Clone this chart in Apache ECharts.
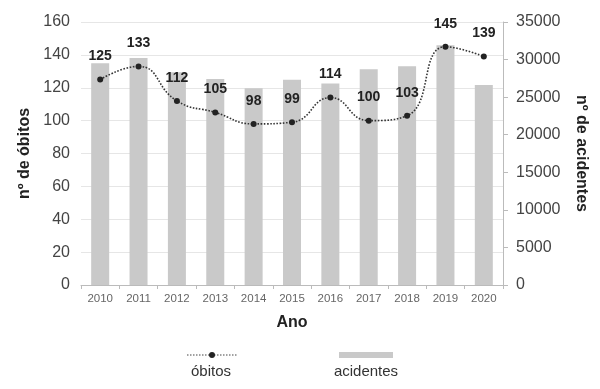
<!DOCTYPE html>
<html><head><meta charset="utf-8">
<script src="https://cdn.jsdelivr.net/npm/echarts@6/dist/echarts.min.js"></script>
<style>html,body{margin:0;padding:0;background:#fff}#c{width:600px;height:389px}</style>
</head><body><div id="c"></div>
<script>
var years = ['2010','2011','2012','2013','2014','2015','2016','2017','2018','2019','2020'];
var obitos = [125,133,112,105,98,99,114,100,103,145,139];
var acidentes = [29500,30200,28300,27400,26200,27300,26800,28700,29100,31900,26600];

var chart = echarts.init(document.getElementById('c'));
var font = 'Liberation Sans, Arial, sans-serif';
chart.setOption({
  animation: false,
  grid: {left: 81, right: 97, top: 22, bottom: 104},
  xAxis: {
    type: 'category', data: years,
    name: 'Ano', nameLocation: 'middle', nameGap: 30,
    nameTextStyle: {fontFamily: font, fontWeight: 'bold', fontSize: 16, color: '#222'},
    axisLine: {lineStyle: {color: '#bbb'}},
    axisTick: {show: true, length: 4, lineStyle: {color: '#bbb'}},
    axisLabel: {fontFamily: font, fontSize: 11.5, color: '#666', margin: 8}
  },
  yAxis: [{
    type: 'value', min: 0, max: 160, interval: 20,
    name: 'nº de óbitos', nameLocation: 'middle', nameGap: 46,
    nameTextStyle: {fontFamily: font, fontWeight: 'bold', fontSize: 16, color: '#222'},
    axisLine: {show: false}, axisTick: {show: false},
    axisLabel: {fontFamily: font, fontSize: 16, color: '#444', margin: 11},
    splitLine: {lineStyle: {color: '#e6e6e6'}}
  }, {
    type: 'value', min: 0, max: 35000, interval: 5000, position: 'right',
    name: 'nº de acidentes', nameLocation: 'middle', nameGap: 70, nameRotate: -90,
    nameTextStyle: {fontFamily: font, fontWeight: 'bold', fontSize: 16, color: '#222'},
    axisLine: {show: true, lineStyle: {color: '#bbb'}},
    axisTick: {show: true, length: 5, lineStyle: {color: '#bbb'}},
    axisLabel: {fontFamily: font, fontSize: 16, color: '#444', margin: 13, formatter: function (v) { return String(v); }},
    splitLine: {show: false}
  }],
  series: [{
    name: 'acidentes', type: 'bar', yAxisIndex: 1, data: acidentes,
    barWidth: 18, itemStyle: {color: '#c9c9c9'}, z: 1
  }, {
    name: 'óbitos', type: 'line', yAxisIndex: 0, data: obitos,
    smooth: 0.5, symbol: 'circle', symbolSize: 6,
    lineStyle: {color: '#333', width: 1.6, type: 'dotted'},
    itemStyle: {color: '#222'},
    label: {show: true, position: 'top', distance: 13, fontFamily: font, fontWeight: 'bold', fontSize: 14, color: '#222'},
    z: 3
  }],
  graphic: [
    {type: 'line', shape: {x1: 187, y1: 355, x2: 238, y2: 355}, style: {stroke: '#444', lineWidth: 1.2, lineDash: [1.5, 1.5]}},
    {type: 'circle', shape: {cx: 212, cy: 355, r: 3}, style: {fill: '#222'}},
    {type: 'text', x: 211, y: 372, style: {text: 'óbitos', font: '15px Liberation Sans, Arial, sans-serif', fill: '#333', align: 'center', verticalAlign: 'middle'}},
    {type: 'rect', shape: {x: 339, y: 352, width: 54, height: 6}, style: {fill: '#c9c9c9'}},
    {type: 'text', x: 366, y: 372, style: {text: 'acidentes', font: '15px Liberation Sans, Arial, sans-serif', fill: '#333', align: 'center', verticalAlign: 'middle'}}
  ]
});
</script></body></html>
